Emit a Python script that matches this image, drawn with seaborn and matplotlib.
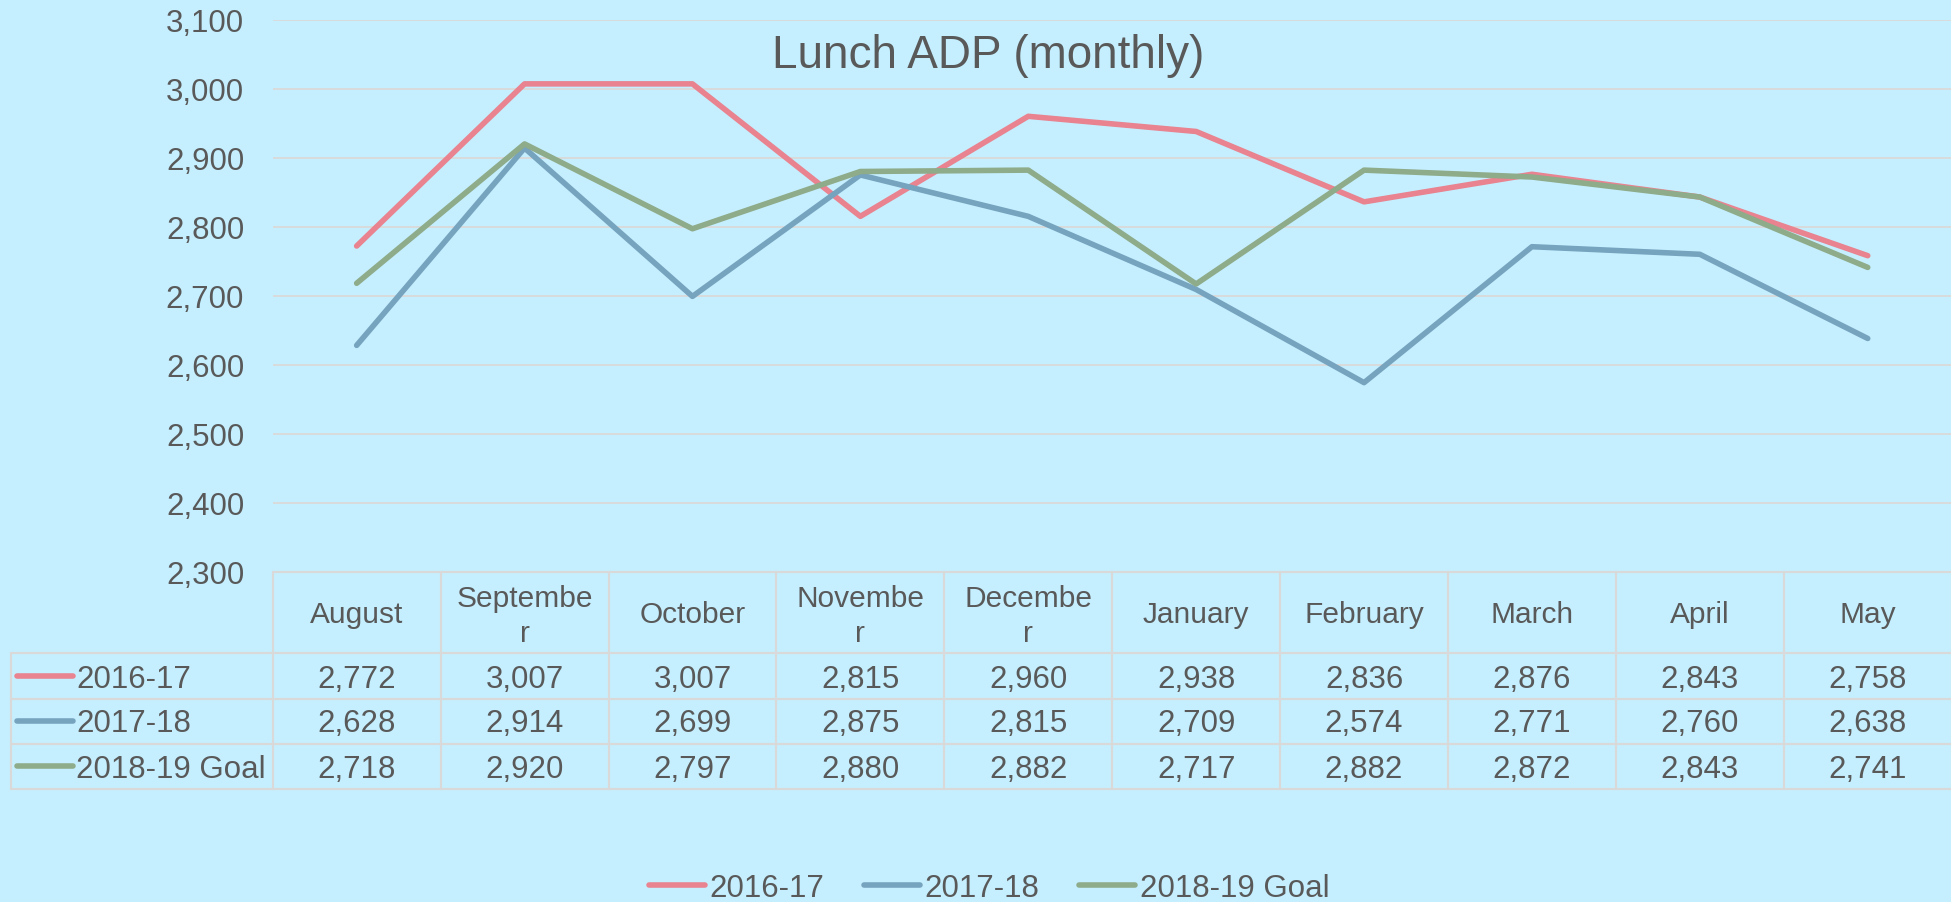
import pandas as pd
import matplotlib.pyplot as plt
import seaborn as sns
from matplotlib.lines import Line2D
from matplotlib.ticker import FuncFormatter

# --- Data ---
months = ['August', 'September', 'October', 'November', 'December',
          'January', 'February', 'March', 'April', 'May']
month_labels = ['August', 'Septembe\nr', 'October', 'Novembe\nr', 'Decembe\nr',
                'January', 'February', 'March', 'April', 'May']
series_names = ['2016-17', '2017-18', '2018-19 Goal']
adp_2016_17 = [2772, 3007, 3007, 2815, 2960, 2938, 2836, 2876, 2843, 2758]
adp_2017_18 = [2628, 2914, 2699, 2875, 2815, 2709, 2574, 2771, 2760, 2638]
adp_2018_19_goal = [2718, 2920, 2797, 2880, 2882, 2717, 2882, 2872, 2843, 2741]
y_ticks = [2300, 2400, 2500, 2600, 2700, 2800, 2900, 3000, 3100]

colors = ['#E8838F', '#76A3BE', '#8EAB8A']
bg = '#C5EFFF'
text_col = '#595959'
grid_col = '#D9D9D9'

rows = []
for name, vals in zip(series_names, [adp_2016_17, adp_2017_18, adp_2018_19_goal]):
    for i, v in enumerate(vals):
        rows.append({'idx': i, 'month': months[i], 'series': name, 'adp': v})
df = pd.DataFrame(rows)

# --- Figure ---
sns.set_style('white')
plt.rcParams['font.family'] = ['Liberation Sans', 'DejaVu Sans']

fig = plt.figure(figsize=(19.51, 9.03), dpi=100, facecolor=bg)
W, H = 1951.0, 903.0
ax_left, ax_right, ax_top, ax_bottom = 272.7, 1951.7, 20.7, 572.7
ax = fig.add_axes([ax_left / W, 1 - ax_bottom / H,
                   (ax_right - ax_left) / W, (ax_bottom - ax_top) / H])
ax.set_facecolor(bg)

sns.lineplot(data=df, x='idx', y='adp', hue='series', palette=colors,
             hue_order=series_names, linewidth=4.0, legend=False, ax=ax,
             solid_capstyle='round', solid_joinstyle='round')

ax.set_xlim(-0.5, 9.5)
ax.set_ylim(2300, 3100)
ax.set_yticks(y_ticks)
ax.yaxis.set_major_formatter(FuncFormatter(lambda v, p: f'{v:,.0f}'))
ax.set_xticks([])
ax.set_xlabel('')
ax.set_ylabel('')
ax.tick_params(axis='y', length=0, pad=20.5, labelsize=22.5, labelcolor=text_col)
ax.grid(axis='y', color=grid_col, linewidth=1.3)
ax.set_axisbelow(True)
for s in ax.spines.values():
    s.set_visible(False)

# --- Data table under the plot ---
col_w = (ax_right - ax_left) / 10.0


def xpx(p):
    return -0.5 + (p - ax_left) / col_w


def ypx(p):
    return (ax_bottom - p) / (ax_bottom - ax_top)


trans = ax.get_xaxis_transform()
line_kw = dict(color=grid_col, linewidth=1.6, transform=trans, clip_on=False)
row_edges = [654.3, 700.0, 745.0, 790.0]
row_baselines = [687.5, 732.5, 777.5]
for k in range(11):
    ax.plot([k - 0.5, k - 0.5], [0, ypx(790.0)], **line_kw)
ax.plot([-0.5, 9.5], [0, 0], **line_kw)
ax.plot([xpx(11.3), xpx(11.3)], [ypx(654.3), ypx(790.0)], **line_kw)
for e in row_edges:
    ax.plot([xpx(11.3), 9.5], [ypx(e), ypx(e)], **line_kw)

# month headers (wrapped ones are drawn line by line)
for i, lab in enumerate(month_labels):
    parts = lab.split('\n')
    if len(parts) == 1:
        bases = [623.3]
    else:
        bases = [606.7, 641.7]
    for part, b in zip(parts, bases):
        ax.text(i, ypx(b), part, transform=trans, ha='center', va='baseline',
                fontsize=21.5, color=text_col)

all_vals = [adp_2016_17, adp_2017_18, adp_2018_19_goal]
for r, (name, vals, c) in enumerate(zip(series_names, all_vals, colors)):
    yb = ypx(row_baselines[r])
    yk = ypx(row_baselines[r] - 11)
    ax.plot([xpx(17.0), xpx(73.0)], [yk, yk], color=c, linewidth=4.0,
            solid_capstyle='round', transform=trans, clip_on=False)
    ax.text(xpx(76.0), yb, name, transform=trans, ha='left', va='baseline',
            fontsize=22.5, color=text_col)
    for i, v in enumerate(vals):
        ax.text(i, yb, f'{v:,}', transform=trans, ha='center', va='baseline',
                fontsize=22.5, color=text_col)

# --- Title ---
fig.text(988 / W, 1 - 67.7 / H, 'Lunch ADP (monthly)', ha='center', va='baseline',
         fontsize=33, color=text_col)

# --- Bottom legend ---
handles = [Line2D([0], [0], color=c, linewidth=4.0, solid_capstyle='round')
           for c in colors]
leg = fig.legend(handles, series_names, loc='center', ncol=3, frameon=False,
                 bbox_to_anchor=(989 / W, 14 / H),
                 prop={'size': 22.5}, borderpad=0, borderaxespad=0,
                 handlelength=1.8, handletextpad=0.15, columnspacing=1.25)
for t in leg.get_texts():
    t.set_color(text_col)

fig.savefig('out.png', dpi=100, facecolor=bg)
